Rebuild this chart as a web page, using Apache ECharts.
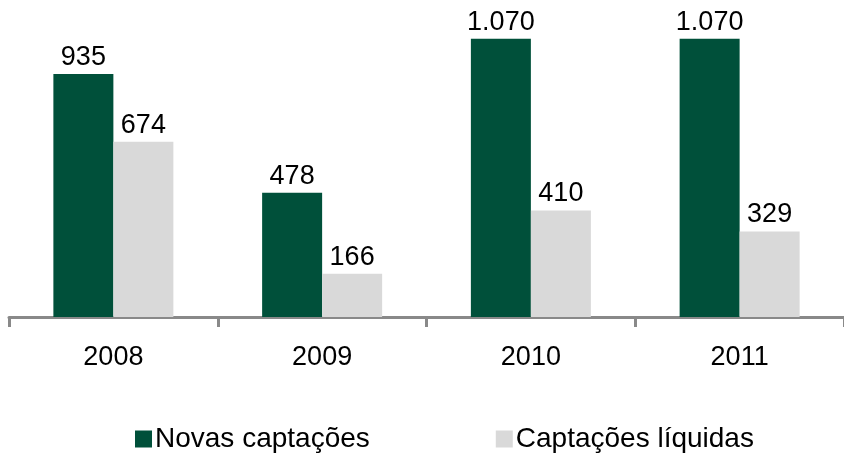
<!DOCTYPE html>
<html>
<head>
<meta charset="utf-8">
<script src="https://cdn.jsdelivr.net/npm/echarts@6/dist/echarts.min.js"></script>
<style>
html,body{margin:0;padding:0;background:#fff;}
#chart{width:844px;height:455px;}
</style>
</head>
<body>
<div id="chart"></div>
<script>
const categories = ['2008', '2009', '2010', '2011'];
const novasCaptacoes = [935, 478, 1070, 1070];
const captacoesLiquidas = [674, 166, 410, 329];
const seriesNames = ['Novas captações', 'Captações líquidas'];

const fmt = v => v.toLocaleString('pt-BR');
const FONT = '"Liberation Sans", Arial, sans-serif';

const chart = echarts.init(document.getElementById('chart'), null, {renderer: 'canvas'});
chart.setOption({
  animation: false,
  backgroundColor: '#ffffff',
  grid: {left: 9, width: 839, top: 5, bottom: 138, containLabel: false},
  legend: {
    data: seriesNames,
    left: 130,
    top: 420,
    itemWidth: 17,
    itemHeight: 17,
    itemGap: 126,
    icon: 'rect',
    textStyle: {fontFamily: FONT, fontSize: 28, color: '#000', padding: [0, 0, 0, -2]}
  },
  xAxis: {
    type: 'category',
    data: categories,
    axisLine: {lineStyle: {color: '#898989', width: 3}},
    axisTick: {show: true, length: 10, lineStyle: {color: '#898989', width: 3}},
    axisLabel: {fontFamily: FONT, fontSize: 27, color: '#000', margin: 27}
  },
  yAxis: {
    type: 'value', min: 0, max: 1200, show: false,
    splitLine: {show: false}
  },
  series: [
    {
      name: seriesNames[0], type: 'bar', data: novasCaptacoes,
      barWidth: 60, barGap: '0%',
      itemStyle: {color: '#00503A'},
      label: {show: true, position: 'top', distance: 3, formatter: p => fmt(p.value),
        fontFamily: FONT, fontSize: 27, color: '#000'}
    },
    {
      name: seriesNames[1], type: 'bar', data: captacoesLiquidas,
      barWidth: 60, barGap: '0%',
      itemStyle: {color: '#D9D9D9'},
      label: {show: true, position: 'top', distance: 3, formatter: p => fmt(p.value),
        fontFamily: FONT, fontSize: 27, color: '#000'}
    }
  ]
});
</script>
</body>
</html>
